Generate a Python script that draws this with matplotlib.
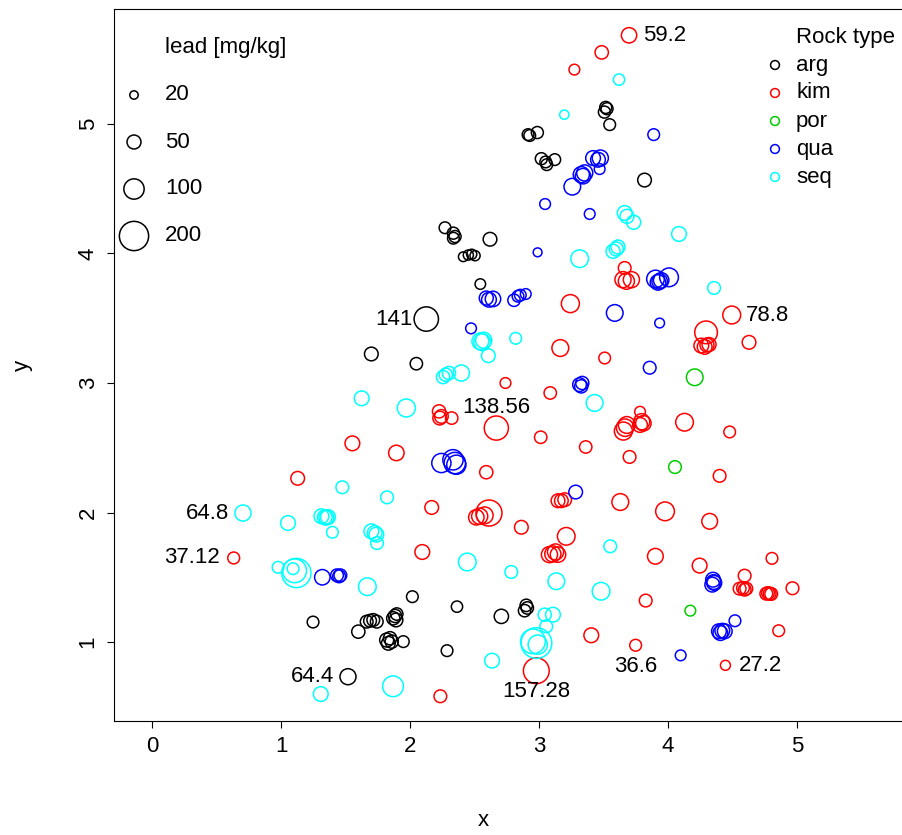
import numpy as np
import matplotlib
matplotlib.use('Agg')
import matplotlib.pyplot as plt

plt.rcParams['font.family'] = ['Liberation Sans', 'DejaVu Sans']

# rock type arg
arg_x = [3.517, 3.527, 3.507, 3.548, 2.915, 2.928, 2.987, 3.018, 3.052, 3.060, 3.122, 3.818,
         2.271, 2.336, 2.349, 2.336, 2.620, 2.413, 2.452, 2.478, 2.504, 2.545, 2.126, 1.700,
         2.049, 1.248, 1.599, 1.664, 1.690, 1.715, 1.742, 1.870, 1.884, 1.897, 1.891, 1.819,
         1.832, 1.845, 1.858, 1.948, 2.018, 2.364, 2.708, 2.901, 2.909, 2.888, 2.287, 1.519]
arg_y = [5.128, 5.118, 5.092, 4.995, 4.918, 4.911, 4.934, 4.732, 4.707, 4.686, 4.725, 4.567,
         4.199, 4.157, 4.131, 4.118, 4.110, 3.975, 3.988, 3.994, 3.983, 3.764, 3.494, 3.224,
         3.149, 1.154, 1.080, 1.157, 1.164, 1.170, 1.157, 1.183, 1.201, 1.216, 1.170, 1.015,
         0.990, 1.029, 1.003, 1.003, 1.350, 1.273, 1.198, 1.283, 1.263, 1.242, 0.933, 0.732]
arg_pb = [38, 38, 38, 36, 36, 36, 38, 38, 36, 36, 36, 48,
          36, 38, 38, 36, 48, 26, 28, 28, 28, 30, 141, 48,
          40, 36, 45, 42, 42, 42, 42, 45, 45, 40, 48, 50,
          48, 45, 45, 36, 36, 34, 52, 40, 40, 40, 36, 64.4]

# rock type kim
kim_x = [3.698, 3.486, 3.274, 3.664, 3.651, 3.677, 3.716, 3.243, 3.165, 3.509, 4.494, 4.295,
         4.258, 4.284, 4.302, 4.318, 4.628, 2.740, 3.087, 2.225, 2.243, 2.230, 2.323, 2.669,
         3.013, 3.362, 3.783, 3.667, 3.680, 3.654, 3.796, 3.809, 3.783, 4.128, 4.478, 1.553,
         1.894, 2.591, 3.702, 4.400, 1.129, 3.147, 3.173, 3.199, 3.630, 2.168, 2.514, 2.540,
         2.579, 2.612, 2.863, 3.211, 3.081, 3.107, 3.128, 3.147, 2.095, 3.977, 4.323, 3.902,
         4.245, 4.806, 4.594, 4.555, 4.581, 4.607, 4.594, 4.762, 4.775, 4.788, 4.800, 4.965,
         3.827, 4.858, 3.749, 3.405, 2.979, 2.235, 4.445, 0.633]
kim_y = [5.685, 5.553, 5.420, 3.888, 3.798, 3.786, 3.798, 3.613, 3.270, 3.193, 3.525, 3.391,
         3.289, 3.279, 3.293, 3.297, 3.314, 3.000, 2.923, 2.781, 2.742, 2.729, 2.729, 2.652,
         2.581, 2.506, 2.778, 2.655, 2.676, 2.629, 2.701, 2.689, 2.676, 2.697, 2.622, 2.534,
         2.460, 2.311, 2.429, 2.283, 2.264, 2.091, 2.091, 2.099, 2.081, 2.039, 1.963, 1.971,
         1.978, 1.996, 1.886, 1.816, 1.675, 1.680, 1.695, 1.675, 1.695, 2.009, 1.932, 1.662,
         1.590, 1.646, 1.512, 1.412, 1.417, 1.412, 1.404, 1.373, 1.378, 1.373, 1.371, 1.415,
         1.320, 1.087, 0.975, 1.052, 0.778, 0.581, 0.820, 1.649]
kim_pb = [59.2, 46, 31, 42, 65, 65, 65, 80, 70, 36, 78.8, 123,
          55, 55, 50, 50, 48, 31, 40, 45, 48, 48, 40, 138.56,
          40, 40, 31, 75, 70, 80, 65, 60, 55, 77, 36, 55,
          60, 45, 42, 42, 48, 48, 48, 48, 70, 48, 60, 65,
          70, 160, 48, 77, 65, 65, 65, 60, 55, 86, 62, 62,
          55, 36, 42, 42, 42, 42, 42, 42, 42, 42, 42, 42,
          42, 36, 36.6, 55, 157.28, 42, 27.2, 37.12]

# rock type por
por_x = [4.207, 4.054, 4.173]
por_y = [3.044, 2.351, 1.242]
por_pb = [69, 42, 31]

# rock type qua
qua_x = [3.889, 3.419, 3.457, 3.475, 3.470, 3.328, 3.354, 3.341, 3.258, 3.047, 3.393, 2.989,
         3.903, 3.922, 3.935, 3.947, 4.008, 3.935, 2.591, 2.612, 2.643, 2.806, 2.837, 2.855,
         2.897, 3.587, 2.473, 3.314, 3.327, 3.335, 3.858, 2.243, 2.333, 2.347, 2.359, 3.284,
         1.320, 1.434, 1.450, 1.460, 4.349, 4.354, 4.343, 4.359, 4.519, 4.395, 4.421, 4.440,
         4.406, 4.098]
qua_y = [4.918, 4.737, 4.724, 4.737, 4.652, 4.609, 4.622, 4.597, 4.516, 4.382, 4.305, 4.009,
         3.803, 3.777, 3.785, 3.793, 3.816, 3.463, 3.656, 3.643, 3.649, 3.639, 3.670, 3.678,
         3.687, 3.541, 3.422, 2.987, 2.974, 3.000, 3.118, 2.382, 2.407, 2.382, 2.369, 2.158,
         1.500, 1.515, 1.507, 1.515, 1.481, 1.463, 1.443, 1.456, 1.164, 1.083, 1.087, 1.083,
         1.069, 0.897]
qua_pb = [36, 55, 55, 65, 31, 65, 65, 60, 69, 31, 31, 22,
          77, 60, 60, 60, 86, 26, 50, 55, 60, 40, 36, 36,
          31, 69, 31, 48, 45, 45, 42, 90, 100, 110, 90, 48,
          60, 42, 42, 42, 55, 55, 55, 55, 36, 55, 55, 55,
          55, 31]

# rock type seq
seq_x = [3.620, 3.196, 3.664, 3.682, 3.734, 4.085, 3.315, 3.574, 3.599, 3.612, 4.357, 2.545,
         2.560, 2.571, 2.607, 2.819, 2.256, 2.277, 2.302, 2.398, 3.431, 1.971, 1.625, 1.475,
         0.705, 1.054, 1.313, 1.339, 1.364, 1.351, 1.398, 1.700, 1.726, 1.739, 1.744, 1.822,
         0.977, 1.119, 1.105, 1.093, 1.669, 3.552, 3.481, 2.444, 2.785, 3.134, 3.044, 3.108,
         3.056, 2.980, 2.953, 2.990, 2.636, 1.868, 1.308]
seq_y = [5.343, 5.072, 4.313, 4.287, 4.241, 4.151, 3.960, 4.017, 4.035, 4.050, 3.734, 3.322,
         3.315, 3.330, 3.211, 3.345, 3.046, 3.064, 3.077, 3.077, 2.846, 2.807, 2.882, 2.195,
         1.996, 1.919, 1.971, 1.963, 1.965, 1.960, 1.847, 1.855, 1.842, 1.829, 1.764, 2.117,
         1.577, 1.533, 1.550, 1.566, 1.427, 1.739, 1.392, 1.618, 1.541, 1.469, 1.211, 1.211,
         1.121, 0.992, 1.005, 0.980, 0.856, 0.658, 0.598]
seq_pb = [34, 24, 55, 50, 50, 55, 77, 50, 50, 50, 42, 70,
          70, 65, 48, 36, 45, 45, 45, 65, 70, 80, 55, 42,
          64.8, 55, 55, 55, 55, 55, 36, 55, 55, 55, 42, 42,
          36, 200, 135, 36, 77, 42, 77, 77, 42, 69, 45, 55,
          42, 220, 145, 90, 55, 104, 55]

rock_names = ['arg', 'kim', 'por', 'qua', 'seq']
rock_colors = ['black', '#FF0000', '#00CD00', '#0000FF', '#00FFFF']
legend_sizes = [20, 50, 100, 200]

# labelled values and where the label sits relative to its point
label_values = [59.2, 78.8, 27.2, 141, 64.4, 64.8, 37.12, 138.56, 157.28, 36.6]
label_sides = ['right', 'right', 'right', 'left', 'left', 'left', 'left', 'above', 'below', 'below']

groups = [(arg_x, arg_y, arg_pb), (kim_x, kim_y, kim_pb), (por_x, por_y, por_pb),
          (qua_x, qua_y, qua_pb), (seq_x, seq_y, seq_pb)]


def bubble(v):
    # marker area in pt^2, radius grows with sqrt(value)
    return (0.72 * (2.16 * np.sqrt(np.asarray(v, dtype=float)) - 1.3)) ** 2


FS = 16
LW = 1.1
W, H = 902, 835
fig = plt.figure(figsize=(W / 100, H / 100), dpi=100)
ax = fig.add_axes([114 / W, 114 / H, 796 / W, 712 / H])

for (gx, gy, gpb), col in zip(groups, rock_colors):
    ax.scatter(gx, gy, s=bubble(gpb), facecolors='none', edgecolors=col, linewidths=LW)

ax.set_xlim(-0.295, 5.876)
ax.set_ylim(0.39, 5.888)
ax.set_xticks([0, 1, 2, 3, 4, 5])
ax.set_yticks([1, 2, 3, 4, 5])
ax.tick_params(direction='out', length=5, width=0.8, labelsize=FS, pad=6)
for lab in ax.get_yticklabels():
    lab.set_rotation(90)
    lab.set_va('center')
for sp in ax.spines.values():
    sp.set_linewidth(0.8)

fig.text(483 / W, 1 - 820 / H, 'x', fontsize=FS, ha='center', va='center')
fig.text(22 / W, 1 - 365 / H, 'y', fontsize=FS, ha='center', va='center', rotation=90)

# value labels
all_x = np.concatenate([g[0] for g in groups])
all_y = np.concatenate([g[1] for g in groups])
all_pb = np.concatenate([g[2] for g in groups])
offsets = {'right': ((10, 0), 'left', 'center'), 'left': ((-10, 0), 'right', 'center'),
           'above': ((0, 15), 'center', 'center'), 'below': ((0, -15), 'center', 'center')}
for val, side in zip(label_values, label_sides):
    i = int(np.argmin(np.abs(all_pb - val)))
    off, ha, va = offsets[side]
    ax.annotate('{:g}'.format(val), (all_x[i], all_y[i]), xytext=off, textcoords='offset points',
                ha=ha, va=va, fontsize=FS)

# size legend (top left)
tr = fig.transFigure
fig.text(165 / W, 1 - 48 / H, 'lead [mg/kg]', fontsize=FS, ha='left', va='center')
for k, v in enumerate(legend_sizes):
    py = 95 + k * 47
    ax.scatter([134 / W], [1 - py / H], s=bubble(v), facecolors='none', edgecolors='black',
               linewidths=LW, transform=tr, clip_on=False)
    fig.text(165 / W, 1 - py / H, str(v), fontsize=FS, ha='left', va='center')

# rock type legend (top right)
fig.text(796 / W, 1 - 37 / H, 'Rock type', fontsize=FS, ha='left', va='center')
for k, (name, col) in enumerate(zip(rock_names, rock_colors)):
    py = 65 + k * 28
    ax.scatter([775 / W], [1 - py / H], s=bubble(22), facecolors='none', edgecolors=col,
               linewidths=LW, transform=tr, clip_on=False)
    fig.text(796 / W, 1 - py / H, name, fontsize=FS, ha='left', va='center')

fig.savefig('out.png', dpi=100)
